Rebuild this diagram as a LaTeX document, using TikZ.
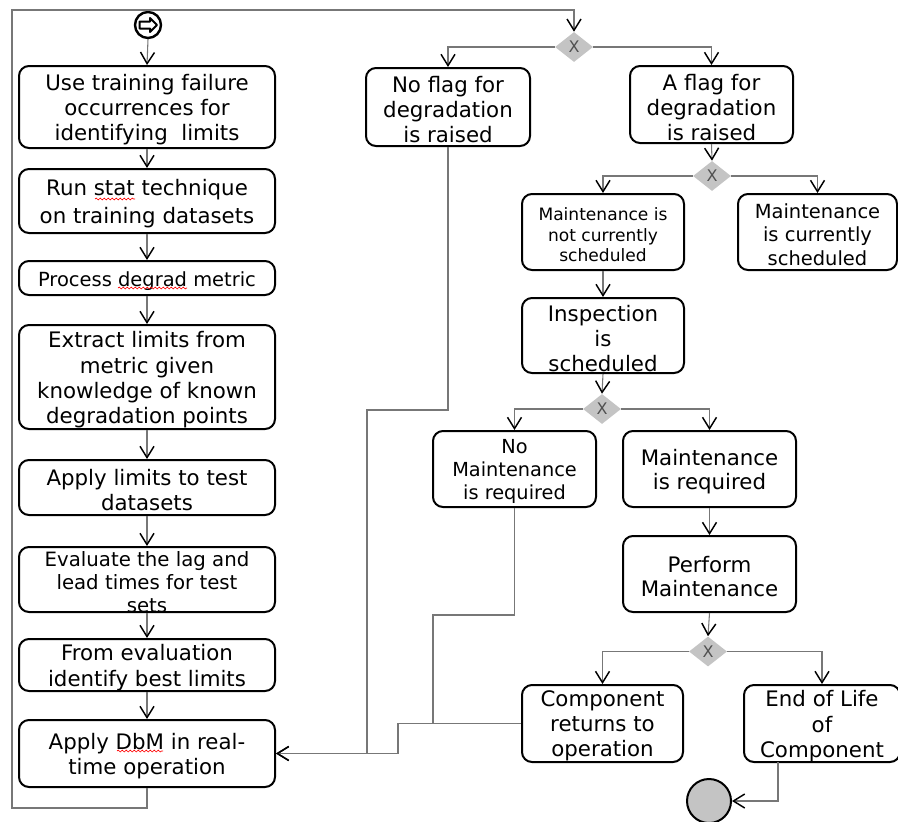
\documentclass[tikz,border=0pt]{standalone}
\usepackage{fontspec}
\setmainfont{DejaVu Sans}
\usetikzlibrary{arrows.meta,shapes.geometric,decorations.pathmorphing}
\definecolor{linegray}{HTML}{777777}
\definecolor{diagray}{HTML}{C4C4C4}
\definecolor{xgray}{HTML}{505050}
\newcommand\fsz[2]{\fontsize{#1pt}{#2pt}\selectfont}

\begin{document}
\begin{tikzpicture}[x=0.75pt,y=-0.75pt,
  box/.style 2 args={draw=black,line width=1.5pt,rounded corners=7.5pt,fill=white,
    minimum width=#1*0.75pt,minimum height=#2*0.75pt,inner sep=0pt},
  txt/.style={align=center,inner sep=0pt,text=black,yshift=-2pt},
  gate/.style={diamond,fill=diagray,draw=none,minimum width=38*0.75pt,
    minimum height=30*0.75pt,inner sep=0pt,text=xgray,font=\fsz{12}{14}},
  conn/.style={draw=linegray,line width=0.8pt},
  arr/.style={conn,-{Straight Barb[length=8.5pt,width=10.5pt,line width=1.1pt,color=black]}},
  squig/.style={draw=red,line width=0.5pt,decorate,
    decoration={snake,amplitude=0.7pt,segment length=3pt}}
]
\useasboundingbox (0,0) rectangle (898,821);

% ---------- start and end symbols ----------
\node[circle,draw=black,line width=1.8pt,fill=white,minimum size=26*0.75pt,inner sep=0pt] (st) at (148,25) {};
\draw[line width=1.5pt,line join=round] (139.5,21.5) -- (150,21.5) -- (150,18) -- (157,25)
  -- (150,32) -- (150,28.5) -- (139.5,28.5) -- cycle;
\node[circle,draw=black,line width=1.5pt,fill=diagray,minimum size=44*0.75pt,inner sep=0pt] (fin) at (709,801) {};

% ---------- left column: limit derivation ----------
\node[box={256}{82}] (b1) at (147,107) {};
\node[txt,font=\fsz{16}{18.8}] (b1t) at (b1) {Use training failure\\occurrences for\\identifying\ \ limits};
\node[box={256}{64}] (b2) at (147,201) {};
\node[txt,font=\fsz{16}{20.8}] (b2t) at (b2) {Run stat technique\\on training datasets};
\node[box={256}{34}] (b3) at (147,278) {};
\node[txt,font=\fsz{14.6}{17}] (b3t) at (b3) {Process degrad metric};
\node[box={256}{104}] (b4) at (147,377) {};
\node[txt,font=\fsz{16}{18.8}] (b4t) at (b4) {Extract limits from\\metric given\\knowledge of known\\degradation points};
\node[box={256}{55}] (b5) at (147,487.5) {};
\node[txt,font=\fsz{16}{18.8}] (b5t) at (b5) {Apply limits to test\\datasets};
\node[box={256}{65}] (b6) at (147,579.5) {};
\node[txt,font=\fsz{14.8}{17.3}] (b6t) at (b6) {Evaluate the lag and\\lead times for test\\sets};
\node[box={256}{52}] (b7) at (147,665) {};
\node[txt,font=\fsz{16}{19.5}] (b7t) at (b7) {From evaluation\\identify best limits};
\node[box={256}{67}] (b8) at (147,753.5) {};
\node[txt,font=\fsz{16}{18.8}] (b8t) at (b8) {Apply DbM in real-\\time operation};

% ---------- right part: monitoring decisions ----------
\node[gate] (d1) at (574,47) {X};
\node[box={164}{78}] (nf) at (448,107) {};
\node[txt,font=\fsz{16}{18.8}] (nft) at (nf) {No flag for\\degradation\\is raised};
\node[box={163}{77}] (af) at (711.5,104.5) {};
\node[txt,font=\fsz{16}{18.8}] (aft) at (af) {A flag for\\degradation\\is raised};

\node[gate] (d2) at (712,176) {X};
\node[box={162}{76}] (mn) at (603,232) {};
\node[txt,font=\fsz{12.8}{15.4}] (mnt) at (mn) {Maintenance is\\not currently\\scheduled};
\node[box={159}{76}] (mc) at (817.5,232) {};
\node[txt,font=\fsz{14.6}{17.6}] (mct) at (mc) {Maintenance\\is currently\\scheduled};

\node[box={162}{75}] (ins) at (603,335.5) {};
\node[txt,font=\fsz{16}{18.8}] (inst) at (ins) {Inspection\\is\\scheduled};

\node[gate] (d3) at (602,409) {X};
\node[box={163}{76}] (nm) at (514.5,469) {};
\node[txt,font=\fsz{14.5}{17.3}] (nmt) at (nm) {No\\Maintenance\\is required};
\node[box={173}{76}] (mr) at (709.5,469) {};
\node[txt,font=\fsz{16}{18}] (mrt) at (mr) {Maintenance\\is required};
\node[box={173}{76}] (pm) at (709.5,574) {};
\node[txt,font=\fsz{16}{18}] (pmt) at (pm) {Perform\\Maintenance};

\node[gate] (d4) at (708,651.5) {X};
\node[box={161}{77}] (cr) at (602.5,723.5) {};
\node[txt,font=\fsz{16}{18.8}] (crt) at (cr) {Component\\returns to\\operation};
\node[box={156}{77}] (eol) at (822,723.5) {};
\node[txt,font=\fsz{16}{18.8}] (eolt) at (eol) {End of Life\\of\\Component};

% ---------- bend points of the routed connectors ----------
\coordinate (lp1) at (12,808);
\coordinate (lp2) at (12,10);
\coordinate (c1) at (367,410);
\coordinate (c3) at (398,723.5);
\coordinate (c4) at (433,615);
\coordinate (c5) at (433,723.5);
\coordinate (e1) at (778,762);

% ---------- connectors ----------
\draw[arr] (st.south) -- (b1.north);
\draw[arr] (b1.south) -- (b2.north);
\draw[arr] (b2.south) -- (b3.north);
\draw[arr] (b3.south) -- (b4.north);
\draw[arr] (b4.south) -- (b5.north);
\draw[arr] (b5.south) -- (b6.north);
\draw[arr] (b6.south) -- (b7.north);
\draw[arr] (b7.south) -- (b8.north);
\draw[arr] (b8.south) |- (lp1) -- (lp2) -| (d1.north);

\draw[arr] (d1.west) -| (nf.north);
\draw[arr] (d1.east) -| (af.north);
\draw[arr] (nf.south) |- (c1) |- (b8.east);

\draw[arr] (af.south) -- (d2.north);
\draw[arr] (d2.west) -| (mn.north);
\draw[arr] (d2.east) -| (mc.north);
\draw[arr] (mn.south) -- (ins.north);
\draw[arr] (ins.south) -- (d3.north);

\draw[arr] (d3.west) -| (nm.north);
\draw[arr] (d3.east) -| (mr.north);
\draw[conn] (nm.south) |- (c4) -- (c5);
\draw[arr] (mr.south) -- (pm.north);
\draw[arr] (pm.south) -- (d4.north);

\draw[arr] (d4.west) -| (cr.north);
\draw[arr] (d4.east) -| (eol.north);
\draw[arr] (cr.west) -- (c3) |- (b8.east);
\draw[arr] (e1) |- (fin.east);

% ---------- spell-check underlines ----------
\draw[squig] (95,199) -- (135,199);
\draw[squig] (118,288) -- (187,288);
\draw[squig] (117,751) -- (163,751);
\end{tikzpicture}
\end{document}
